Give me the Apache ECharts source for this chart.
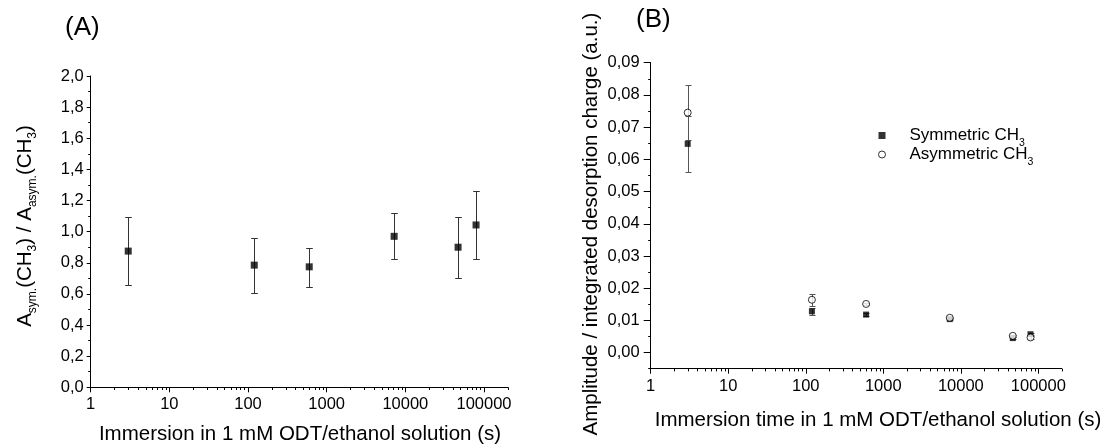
<!DOCTYPE html>
<html>
<head>
<meta charset="utf-8">
<script src="https://cdn.jsdelivr.net/npm/echarts@6/dist/echarts.min.js"></script>
<style>
  html, body { margin: 0; padding: 0; background: #fff; }
  #chart { width: 1104px; height: 445px; }
</style>
</head>
<body>
<div id="chart"></div>
<script>
// ---- Panel A: peak area ratio vs. immersion time ----
const timesA = [3, 120, 600, 7200, 46800, 79200];
const ratioA = [0.875, 0.785, 0.774, 0.970, 0.900, 1.043];
const ratioLowA = [0.660, 0.606, 0.646, 0.823, 0.704, 0.823];
const ratioHighA = [1.093, 0.962, 0.898, 1.122, 1.094, 1.264];

// ---- Panel B: normalised amplitudes of the CH3 stretching modes ----
const timesB = [3, 120, 600, 7200, 46800, 79200];
const symAmp = [0.0648, 0.0128, 0.0118, 0.0104, 0.0045, 0.0057];
const symErr = [0.0088, 0.0012, 0.0005, 0.0004, 0.0004, 0.0003];
const asymAmp = [0.0745, 0.0164, 0.0151, 0.0108, 0.0052, 0.0047];
const asymErr = [0.0085, 0.0018, 0.0004, 0.0003, 0.0003, 0.0004];

// ---- Axis tick labels ----
const logTickLabels = ['1', '10', '100', '1000', '10000', '100000'];
const logMinorSteps = [2, 3, 4, 5, 6, 7, 8, 9];
const logDecades = [1, 10, 100, 1000, 10000, 100000];

const FONT = "'Liberation Sans', Arial, Helvetica, sans-serif";
const TICK_FONT = 16.5;
const TITLE_FONT = '20.5px ' + FONT;
const X_MAX = 200000;
const YB_MIN = -0.005;

const minorLogTicks = [];
logDecades.forEach(d => logMinorSteps.forEach(s => {
  if (d * s <= X_MAX) minorLogTicks.push(d * s);
}));

const decimalComma = digits => v => v.toFixed(digits).replace('.', ',');
const logLabel = v => {
  const i = Math.round(Math.log10(v));
  return Math.abs(Math.log10(v) - i) < 1e-6 && logTickLabels[i] !== undefined ? logTickLabels[i] : '';
};

function errorBars(capHalf, color) {
  return function (params, api) {
    const x = api.value(0), lo = api.value(1), hi = api.value(2);
    const a = api.coord([x, lo]), b = api.coord([x, hi]);
    const px = Math.round(a[0]) + 0.5;
    const yLo = Math.round(a[1]) + 0.5, yHi = Math.round(b[1]) + 0.5;
    const style = { stroke: color, lineWidth: 1 };
    return {
      type: 'group',
      children: [
        { type: 'line', shape: { x1: px, y1: yLo, x2: px, y2: yHi }, style },
        { type: 'line', shape: { x1: px - capHalf, y1: yHi, x2: px + capHalf, y2: yHi }, style },
        { type: 'line', shape: { x1: px - capHalf, y1: yLo, x2: px + capHalf, y2: yLo }, style }
      ]
    };
  };
}

function minorTicks(len) {
  return function (params, api) {
    const p = api.coord([api.value(0), api.value(1)]);
    const px = Math.round(p[0]) + 0.5;
    return {
      type: 'line',
      shape: { x1: px, y1: p[1], x2: px, y2: p[1] + len },
      style: { stroke: '#000', lineWidth: 1 }
    };
  };
}

function logXAxis(gridIndex, tickLen) {
  return {
    type: 'log', gridIndex, logBase: 10, min: 1, max: X_MAX, position: 'bottom',
    axisLine: { show: true, onZero: false, lineStyle: { color: '#000', width: 1 } },
    axisTick: { show: true, inside: false, length: tickLen, lineStyle: { color: '#000', width: 1 } },
    splitLine: { show: false },
    axisLabel: { show: true, margin: 9, fontSize: TICK_FONT, color: '#000', fontFamily: FONT,
                 showMaxLabel: false, formatter: logLabel }
  };
}

const chart = echarts.init(document.getElementById('chart'), null, { renderer: 'canvas' });

const sub = (pad, size) => ({ fontSize: size, fontFamily: FONT, color: '#000', padding: [pad, 0, 0, 0] });

chart.setOption({
  animation: false,
  backgroundColor: '#fff',
  textStyle: { fontFamily: FONT, color: '#000' },
  grid: [
    { left: 90.7, top: 76, width: 417, height: 311.3, outerBoundsMode: 'none' },
    { left: 650.7, top: 62.7, width: 411, height: 306, outerBoundsMode: 'none' }
  ],
  xAxis: [logXAxis(0, 5), logXAxis(1, 5)],
  yAxis: [
    {
      type: 'value', gridIndex: 0, position: 'left', min: 0, max: 2, interval: 0.2,
      axisLine: { show: true, onZero: false, lineStyle: { color: '#000', width: 1 } },
      axisTick: { show: true, inside: false, length: 4, lineStyle: { color: '#000' } },
      minorTick: { show: true, splitNumber: 2, length: 2.5, lineStyle: { color: '#000' } },
      splitLine: { show: false }, minorSplitLine: { show: false },
      axisLabel: { margin: 7, fontSize: TICK_FONT, color: '#000', fontFamily: FONT, formatter: decimalComma(1) }
    },
    {
      // half-step ticks for panel B
      type: 'value', gridIndex: 1, position: 'left', offset: 0, min: YB_MIN, max: 0.09, interval: 0.005,
      axisLine: { show: true, onZero: false, lineStyle: { color: '#000', width: 1 } },
      axisTick: { show: true, inside: false, length: 2.5, lineStyle: { color: '#000' } },
      splitLine: { show: false },
      axisLabel: { show: false }
    },
    {
      // labelled ticks for panel B
      type: 'value', gridIndex: 1, position: 'left', offset: 0, min: YB_MIN, max: 0.09, splitNumber: 9,
      axisLine: { show: false, onZero: false },
      axisTick: { show: true, inside: false, length: 7, lineStyle: { color: '#000' } },
      splitLine: { show: false },
      axisLabel: { margin: 11, fontSize: TICK_FONT, color: '#000', fontFamily: FONT,
                   showMinLabel: false, formatter: decimalComma(2) }
    }
  ],
  legend: {
    orient: 'vertical', left: 873, top: 122, itemWidth: 7, itemHeight: 7, itemGap: -3,
    selectedMode: false,
    data: [
      { name: 'Symmetric CH3', icon: 'rect', itemStyle: { color: '#000', borderWidth: 0 } },
      { name: 'Asymmetric CH3', icon: 'circle', itemStyle: { color: '#fff', borderColor: '#000', borderWidth: 1 } }
    ],
    formatter: name => '{n|' + name.slice(0, -1) + '}{s|3}',
    textStyle: {
      rich: {
        n: { fontSize: 17, fontFamily: FONT, color: '#000', padding: [0, 0, 0, 19] },
        s: sub(16, 10.5)
      }
    }
  },
  graphic: [
    { type: 'text', x: 65, y: 28, style: { text: '(A)', font: '26px ' + FONT, fill: '#000', align: 'left', verticalAlign: 'middle' } },
    { type: 'text', x: 636, y: 20, style: { text: '(B)', font: '26px ' + FONT, fill: '#000', align: 'left', verticalAlign: 'middle' } },
    { type: 'text', x: 300, y: 434, style: { text: 'Immersion in 1 mM ODT/ethanol solution (s)', font: TITLE_FONT, fill: '#000', align: 'center', verticalAlign: 'middle' } },
    { type: 'text', x: 878, y: 420, style: { text: 'Immersion time in 1 mM ODT/ethanol solution (s)', font: TITLE_FONT, fill: '#000', align: 'center', verticalAlign: 'middle' } },
    {
      type: 'text', x: 25, y: 226, rotation: Math.PI / 2,
      style: {
        text: '{m|A}{s|sym.}{m|(CH}{s|3}{m|) / A}{s|asym.}{m|(CH}{s|3}{m|)}',
        align: 'center', verticalAlign: 'middle', fill: '#000',
        rich: { m: { fontSize: 20.5, fontFamily: FONT, color: '#000' }, s: sub(16, 12) }
      }
    },
    {
      type: 'text', x: 591, y: 224, rotation: Math.PI / 2,
      style: { text: 'Amplitude / integrated desorption charge (a.u.)', font: TITLE_FONT, fill: '#000', align: 'center', verticalAlign: 'middle' }
    }
  ],
  series: [
    // minor ticks of the logarithmic time axes
    { type: 'custom', name: 'minorA', xAxisIndex: 0, yAxisIndex: 0, silent: true, z: 1,
      renderItem: minorTicks(2.7), data: minorLogTicks.map(v => [v, 0]), encode: { x: 0, y: 1 } },
    { type: 'custom', name: 'minorB', xAxisIndex: 1, yAxisIndex: 2, silent: true, z: 1,
      renderItem: minorTicks(2.7), data: minorLogTicks.map(v => [v, YB_MIN]), encode: { x: 0, y: 1 } },

    // Panel A
    { type: 'custom', name: 'errA', xAxisIndex: 0, yAxisIndex: 0, z: 2,
      renderItem: errorBars(3.3, '#333'),
      data: timesA.map((t, i) => [t, ratioLowA[i], ratioHighA[i]]), encode: { x: 0, y: [1, 2] } },
    { type: 'scatter', name: 'ratio', xAxisIndex: 0, yAxisIndex: 0, z: 3,
      symbol: 'rect', symbolSize: 7, itemStyle: { color: '#000' },
      data: timesA.map((t, i) => [t, ratioA[i]]) },

    // Panel B
    { type: 'custom', name: 'errAsym', xAxisIndex: 1, yAxisIndex: 2, z: 2,
      renderItem: errorBars(3, '#555'),
      data: timesB.map((t, i) => [t, asymAmp[i] - asymErr[i], asymAmp[i] + asymErr[i]]), encode: { x: 0, y: [1, 2] } },
    { type: 'custom', name: 'errSym', xAxisIndex: 1, yAxisIndex: 2, z: 2,
      renderItem: errorBars(3, '#555'),
      data: timesB.map((t, i) => [t, symAmp[i] - symErr[i], symAmp[i] + symErr[i]]), encode: { x: 0, y: [1, 2] } },
    { type: 'scatter', name: 'Symmetric CH3', xAxisIndex: 1, yAxisIndex: 2, z: 3,
      symbol: 'rect', symbolSize: 6, itemStyle: { color: '#000' },
      data: timesB.map((t, i) => [t, symAmp[i]]) },
    { type: 'scatter', name: 'Asymmetric CH3', xAxisIndex: 1, yAxisIndex: 2, z: 4,
      symbol: 'circle', symbolSize: 7, itemStyle: { color: '#fff', borderColor: '#000', borderWidth: 1 },
      data: timesB.map((t, i) => [t, asymAmp[i]]) }
  ]
});
</script>
</body>
</html>
